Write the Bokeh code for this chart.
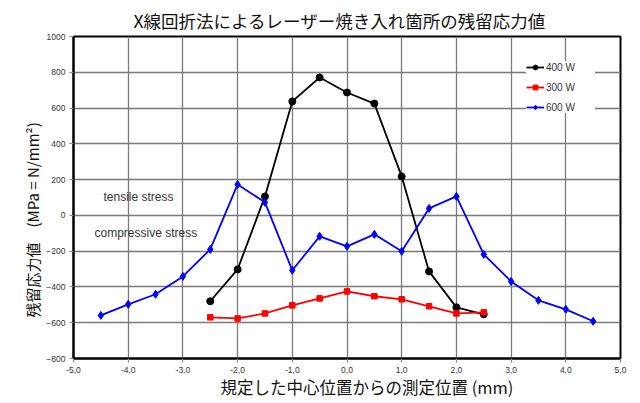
from bokeh.plotting import figure
from bokeh.models import Label, Legend, LegendItem, FixedTicker, CustomJSTickFormatter, Range1d, Title
from bokeh.embed import file_html
from bokeh.resources import INLINE

x_400 = [-2.5, -2.0, -1.5, -1.0, -0.5, 0.0, 0.5, 1.0, 1.5, 2.0, 2.5]
y_400 = [-480, -302, 106, 637, 771, 687, 625, 218, -313, -514, -553]

x_300 = [-2.5, -2.0, -1.5, -1.0, -0.5, 0.0, 0.5, 1.0, 1.5, 2.0, 2.5]
y_300 = [-570, -576, -548, -503, -464, -425, -452, -469, -508, -548, -542]

x_600 = [-4.5, -4.0, -3.5, -3.0, -2.5, -2.0, -1.5, -1.0, -0.5, 0.0, 0.5, 1.0, 1.5, 2.0, 2.5, 3.0, 3.5, 4.0, 4.5]
y_600 = [-559, -497, -441, -341, -190, 173, 73, -307, -117, -173, -106, -201, 39, 106, -218, -369, -475, -525, -592]

x_ticks = [-5, -4, -3, -2, -1, 0, 1, 2, 3, 4, 5]
y_ticks = [-800, -600, -400, -200, 0, 200, 400, 600, 800, 1000]

JP = "Noto Sans CJK JP"
SANS = "Liberation Sans"

p = figure(width=640, height=403, output_backend="svg", toolbar_location=None,
           x_range=Range1d(-5, 5), y_range=Range1d(-800, 1000),
           min_border_left=73, min_border_right=20, min_border_top=36, min_border_bottom=45)

p.title.text = "X線回折法によるレーザー焼き入れ箇所の残留応力値"
p.title.text_font = JP
p.title.text_font_size = "17.5px"
p.title.text_font_style = "normal"
p.title.text_color = "#111111"
p.title.align = "left"
p.title.offset = 60
p.title.standoff = 7

p.outline_line_color = "black"
p.outline_line_width = 2

for g in (p.xgrid, p.ygrid):
    g.grid_line_color = "#7a7a7a"
    g.grid_line_width = 1.3
p.xgrid.ticker = FixedTicker(ticks=x_ticks)
p.ygrid.ticker = FixedTicker(ticks=y_ticks)

p.xaxis.ticker = FixedTicker(ticks=x_ticks)
p.yaxis.ticker = FixedTicker(ticks=y_ticks)
p.xaxis.formatter = CustomJSTickFormatter(code="return tick.toFixed(1).replace('.', ',');")
for ax in (p.xaxis, p.yaxis):
    ax.axis_line_color = "black"
    ax.axis_line_width = 2
    ax.major_tick_line_color = "#888888"
    ax.major_tick_line_width = 1.2
    ax.major_tick_out = 4
    ax.major_tick_in = 0
    ax.minor_tick_line_color = None
    ax.major_label_text_font = SANS
    ax.major_label_text_font_size = "8.5px"
    ax.major_label_text_color = "#333333"
    ax.major_label_standoff = 4

xlabel = Title(text="規定した中心位置からの測定位置 (mm)", text_font=JP, text_font_size="16.5px",
               text_font_style="normal", text_color="#111111", align="left", offset=147,
               standoff=-6)
p.add_layout(xlabel, "below")

ylabel = Title(text="残留応力値　(MPa = N/mm²)", text_font=JP, text_font_size="15px",
               text_font_style="normal", text_color="#111111", align="left", offset=41,
               standoff=2)
p.add_layout(ylabel, "left")

l1 = p.line(x_400, y_400, line_color="black", line_width=1.8)
m1 = p.scatter(x_400, y_400, marker="circle", size=7, color="black")
l2 = p.line(x_300, y_300, line_color="red", line_width=1.8)
m2 = p.scatter(x_300, y_300, marker="square", size=5.5, color="red")
l3 = p.line(x_600, y_600, line_color="blue", line_width=1.8)
m3 = p.scatter(x_600, y_600, marker="diamond", size=8, color="blue")

legend = Legend(items=[
    LegendItem(label="400 W", renderers=[l1, m1]),
    LegendItem(label="300 W", renderers=[l2, m2]),
    LegendItem(label="600 W", renderers=[l3, m3]),
], location="top_right")
legend.label_text_font = SANS
legend.label_text_font_size = "10px"
legend.label_text_color = "#333333"
legend.border_line_color = None
legend.background_fill_color = "white"
legend.background_fill_alpha = 1
legend.glyph_width = 18
legend.glyph_height = 12
legend.label_height = 12
legend.label_width = 49
legend.spacing = 8
legend.label_standoff = 2
legend.padding = 12
legend.margin = 25
p.add_layout(legend)

p.add_layout(Label(x=30, y=162, x_units="screen", y_units="screen", text="tensile stress",
                   text_font=SANS, text_font_size="12px", text_baseline="middle",
                   text_color="#333333"))
p.add_layout(Label(x=21, y=126, x_units="screen", y_units="screen", text="compressive stress",
                   text_font=SANS, text_font_size="12px", text_baseline="middle",
                   text_color="#333333"))

open("out.html", "w").write(file_html(p, INLINE))
